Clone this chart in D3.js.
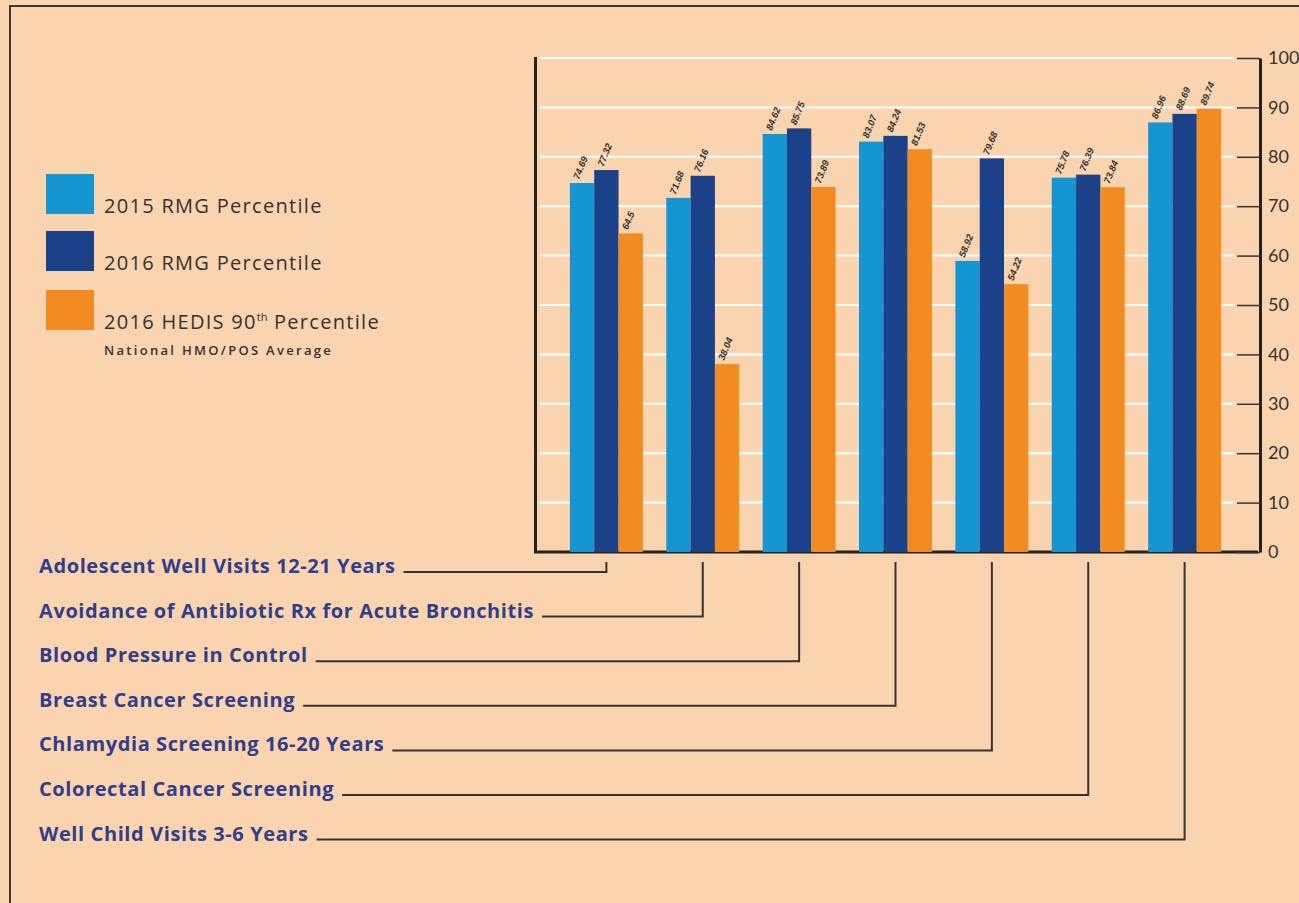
<!DOCTYPE html>
<html>
<head>
<meta charset="utf-8">
<script src="https://cdn.jsdelivr.net/npm/d3@7"></script>
<style>
  body { margin: 0; background: #fff; }
  svg { display: block; }
</style>
</head>
<body>
<div id="chart"></div>
<script>
// Data
const categories = [
    "Adolescent Well Visits 12-21 Years",
    "Avoidance of Antibiotic Rx for Acute Bronchitis",
    "Blood Pressure in Control",
    "Breast Cancer Screening",
    "Chlamydia Screening 16-20 Years",
    "Colorectal Cancer Screening",
    "Well Child Visits 3-6 Years"
];
const seriesNames = ["2015 RMG Percentile", "2016 RMG Percentile", "2016 HEDIS 90th Percentile"];
const rmg2015 = [74.69, 71.68, 84.62, 83.07, 58.92, 75.78, 86.96];
const rmg2016 = [77.32, 76.16, 85.75, 84.24, 79.68, 76.39, 88.69];
const hedis2016 = [64.5, 38.04, 73.89, 81.53, 54.22, 73.84, 89.74];
const yTicks = [0, 10, 20, 30, 40, 50, 60, 70, 80, 90, 100];

const colors = ["#1695d3", "#1b4288", "#f28c22"];
const series = [rmg2015, rmg2016, hedis2016];

const W = 1299, H = 903;
const svg = d3.select("#chart").append("svg")
    .attr("width", W)
    .attr("height", H);

// background and frame
svg.append("rect").attr("width", W).attr("height", H).attr("fill", "#fad4ae");
svg.append("path")
    .attr("d", `M10,${H + 5} V6 H${W + 5}`)
    .attr("fill", "none")
    .attr("stroke", "#3a3a3a")
    .attr("stroke-width", 2);

// scales
const x = d3.scaleBand()
    .domain(categories)
    .range([541, 1250])
    .paddingInner(0.243)
    .paddingOuter(0.3);

const xs = d3.scaleBand()
    .domain(d3.range(series.length))
    .range([0, x.bandwidth()]);

const y = d3.scaleLinear()
    .domain([0, 100])
    .range([552, 58]);

// white gridlines
svg.append("g")
    .selectAll("line")
    .data(yTicks.slice(1))
    .join("line")
    .attr("x1", 540)
    .attr("x2", 1234)
    .attr("y1", d => y(d))
    .attr("y2", d => y(d))
    .attr("stroke", "#fff")
    .attr("stroke-width", 2);

// left and bottom axis lines
svg.append("path")
    .attr("d", `M535.5,${y(100) - 1} V${y(0)} H1258`)
    .attr("fill", "none")
    .attr("stroke", "#222")
    .attr("stroke-width", 3);

// right axis
const yAxis = svg.append("g")
    .attr("transform", "translate(1260,0)")
    .call(d3.axisRight(y).tickValues(yTicks).tickSize(0).tickPadding(8));
yAxis.select(".domain")
    .attr("stroke", "#222")
    .attr("stroke-width", 3);
yAxis.selectAll(".tick line")
    .attr("x1", -23)
    .attr("x2", 0)
    .attr("stroke", "#333")
    .attr("stroke-width", 1.5);
yAxis.selectAll(".tick text")
    .attr("fill", "#333")
    .style("font-family", "Lato, sans-serif")
    .style("font-size", "18px");

// bars
const groups = svg.append("g")
    .selectAll("g")
    .data(categories)
    .join("g")
    .attr("transform", d => `translate(${x(d)},0)`);

groups.each(function(cat, ci) {
    const g = d3.select(this);
    series.forEach((vals, si) => {
        const v = vals[ci];
        g.append("rect")
            .attr("x", xs(si))
            .attr("width", xs.bandwidth())
            .attr("y", y(v))
            .attr("height", y(0) - y(v))
            .attr("fill", colors[si]);
        const cx = xs(si) + xs.bandwidth() / 2;
        g.append("text")
            .attr("transform", `translate(${cx - 3},${y(v) - 3}) rotate(-68)`)
            .attr("fill", "#333")
            .style("font-family", "Liberation Sans, sans-serif")
            .style("font-size", "9.5px")
            .style("font-style", "italic")
            .style("font-weight", "bold")
            .text(v);
    });
});

// category labels with leader lines
const rowY = i => 572 + i * 44.6;
const labels = svg.append("g");
categories.forEach((cat, i) => {
    const t = labels.append("text")
        .attr("x", 39)
        .attr("y", rowY(i) + 1)
        .attr("fill", "#2e3f8e")
        .style("font-family", "'Open Sans', sans-serif")
        .style("font-size", "20px")
        .style("font-weight", "bold")
        .style("letter-spacing", "0.6px")
        .text(cat);
    const end = 39 + t.node().getComputedTextLength() + 8;
    const cx = x(cat) + x.bandwidth() / 2;
    labels.append("path")
        .attr("d", `M${end},${rowY(i)} H${cx} V562`)
        .attr("fill", "none")
        .attr("stroke", "#333")
        .attr("stroke-width", 2);
});

// legend
const legendY = [174, 231, 290];
const legend = svg.append("g");
seriesNames.forEach((name, i) => {
    legend.append("rect")
        .attr("x", 46)
        .attr("y", legendY[i])
        .attr("width", 48)
        .attr("height", 40)
        .attr("fill", colors[i]);
});
const legendText = (txt, i) => legend.append("text")
    .attr("x", 104)
    .attr("y", legendY[i] + 39)
    .attr("fill", "#333")
    .style("font-family", "'Open Sans', sans-serif")
    .style("font-size", "20px")
    .style("letter-spacing", "1.3px")
    .text(txt);
legendText(seriesNames[0], 0);
legendText(seriesNames[1], 1);
const hedis = legendText("2016 HEDIS 90", 2);
hedis.append("tspan").attr("dy", -8).style("font-size", "11px").style("letter-spacing", "0px").text("th");
hedis.append("tspan").attr("dy", 8).text(" Percentile");
legend.append("text")
    .attr("x", 104)
    .attr("y", 355)
    .attr("fill", "#333")
    .style("font-family", "'Open Sans', sans-serif")
    .style("font-size", "13px")
    .style("font-weight", "600")
    .style("letter-spacing", "2.3px")
    .text("National HMO/POS Average");
</script>
</body>
</html>
